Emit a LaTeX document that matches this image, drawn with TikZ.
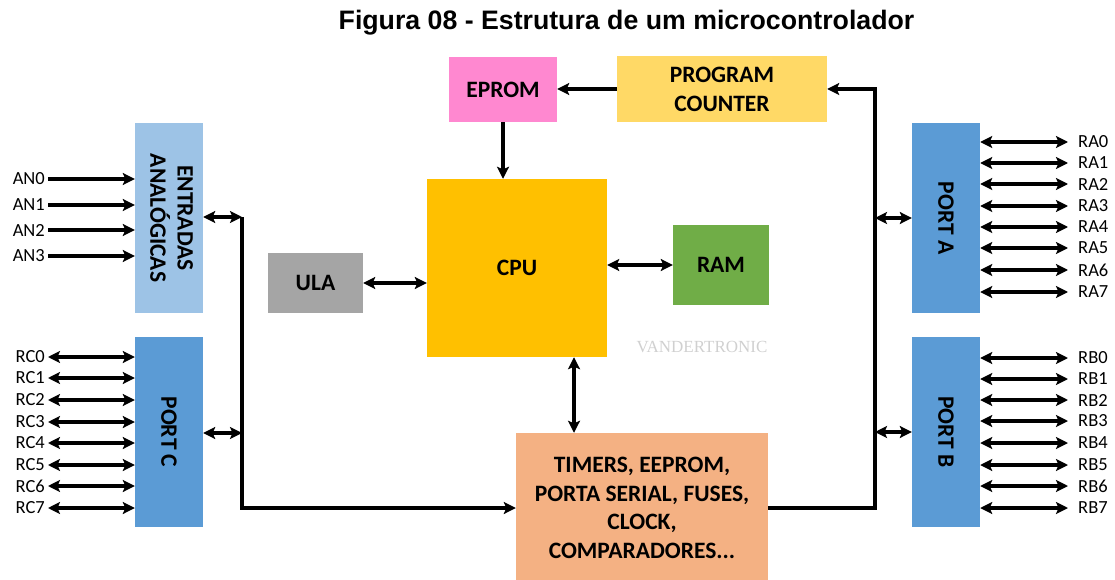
\documentclass[tikz,border=0pt]{standalone}
\usepackage{fontspec}
\setmainfont{Carlito}
\newfontfamily\titlefont{Liberation Sans}
\newfontfamily\wmfont{Liberation Serif}
\usetikzlibrary{arrows.meta}
\definecolor{entblue}{HTML}{9DC3E6}
\definecolor{portblue}{HTML}{5B9BD5}
\definecolor{epromc}{HTML}{FF88D0}
\definecolor{pcc}{HTML}{FFD966}
\definecolor{cpuc}{HTML}{FFC000}
\definecolor{ulac}{HTML}{A5A5A5}
\definecolor{ramc}{HTML}{70AD47}
\definecolor{timc}{HTML}{F4B183}
\definecolor{wmc}{HTML}{D0D0D0}
\tikzset{
  blk/.style={draw=none, inner sep=0pt, align=center, font=\fontsize{23.5}{25}\selectfont\bfseries},
  pinlab/.style={inner sep=0pt, font=\fontsize{18.5}{20}\selectfont},
  tip/.style={Stealth[length=12pt,width=12pt,inset=2.5pt]},
  conn/.style={line width=3.2pt, -{Stealth[length=12pt,width=12pt,inset=2.5pt]}},
  biconn/.style={line width=3.2pt, {Stealth[length=12pt,width=12pt,inset=2.5pt]}-{Stealth[length=12pt,width=12pt,inset=2.5pt]}}
}
\begin{document}
\begin{tikzpicture}[x=1pt,y=-1pt]
\useasboundingbox (0,0) rectangle (1115,580);
% title
\node[inner sep=0pt, font=\titlefont\fontsize{26.7}{28}\selectfont\bfseries] (title) at (626.5,23) {Figura 08 - Estrutura de um microcontrolador};
% blocks
\node[blk, fill=entblue, minimum width=68pt, minimum height=190pt] (ent) at (169,218) {\rotatebox{-90}{\begin{tabular}{@{}c@{}}ENTRADAS\\ANALÓGICAS\end{tabular}}};
\node[blk, fill=portblue, minimum width=68pt, minimum height=190pt] (portc) at (169,432) {\rotatebox{-90}{PORT C}};
\node[blk, fill=portblue, minimum width=68pt, minimum height=190pt] (porta) at (946,218) {\rotatebox{-90}{PORT A}};
\node[blk, fill=portblue, minimum width=68pt, minimum height=190pt] (portb) at (946,432) {\rotatebox{-90}{PORT B}};
\node[blk, fill=epromc, minimum width=108pt, minimum height=65pt] (eprom) at (503,89.5) {EPROM};
\node[blk, fill=pcc, minimum width=210pt, minimum height=66pt, font=\fontsize{23.5}{29}\selectfont\bfseries] (pc) at (722,89) {PROGRAM\\COUNTER};
\node[blk, fill=cpuc, minimum width=180pt, minimum height=178pt] (cpu) at (517,268) {CPU};
\node[blk, fill=ulac, minimum width=95pt, minimum height=60pt] (ula) at (315.5,283) {ULA};
\node[blk, fill=ramc, minimum width=96pt, minimum height=80pt] (ram) at (721,265) {RAM};
\node[blk, fill=timc, minimum width=252pt, minimum height=150pt, font=\fontsize{23.5}{28.5}\selectfont\bfseries] (tim) at (642,508) {TIMERS, EEPROM,\\PORTA SERIAL, FUSES,\\CLOCK,\\COMPARADORES...};
\node[inner sep=0pt, text=wmc, font=\wmfont\fontsize{17}{18}\selectfont] (wm) at (702,347) {VANDERTRONIC};
% internal connectors
\draw[conn] (pc.west) -- (pc.west -| eprom.east);
\draw[conn] (eprom.south) -- (eprom.south |- cpu.north);
\draw[biconn] (ula.east) -- (ula.east -| cpu.west);
\draw[biconn] (ram.west -| cpu.east) -- (ram.west);
\draw[biconn] ([xshift=57pt]cpu.south) -- ([xshift=57pt]cpu.south |- tim.north);
% left bus
\coordinate (lbtop) at (242,217);
\coordinate (lbmid) at (242,433);
\coordinate (lbbot) at (242,508);
\draw[conn] (lbtop) -- (lbbot) -- (lbbot -| tim.west);
\draw[biconn] (lbtop) -- (lbtop -| ent.east);
\draw[biconn] (lbmid) -- (lbmid -| portc.east);
% right bus
\coordinate (rbot) at (875,508);
\coordinate (rma) at (875,218);
\coordinate (rmb) at (875,432);
\draw[conn] (rbot -| tim.east) -- (rbot) -- (rbot |- pc.east) -- (pc.east);
\draw[biconn] (rma) -- (rma -| porta.west);
\draw[biconn] (rmb) -- (rmb -| portb.west);
% AN pins
\foreach \n/\y in {0/179,1/205,2/230,3/256}{
  \node[pinlab, anchor=east] (an\n) at (45,\y) {AN\n};
  \draw[conn] ([xshift=3pt]an\n.east) -- (an\n.east -| ent.west);
}
% RC pins
\foreach \n/\y in {0/357,1/378,2/400,3/422,4/443,5/465,6/486,7/508}{
  \node[pinlab, anchor=east] (rc\n) at (45,\y) {RC\n};
  \draw[biconn] ([xshift=3pt]rc\n.east) -- (rc\n.east -| portc.west);
}
% RA pins
\foreach \n/\y in {0/142,1/163,2/184,3/206,4/227,5/248,6/270,7/292}{
  \node[pinlab, anchor=west] (ra\n) at (1078,\y) {RA\n};
  \draw[biconn] (ra\n.west -| porta.east) -- ([xshift=-10pt]ra\n.west);
}
% RB pins
\foreach \n/\y in {0/358,1/379,2/400,3/421,4/443,5/465,6/486,7/508}{
  \node[pinlab, anchor=west] (rb\n) at (1078,\y) {RB\n};
  \draw[biconn] (rb\n.west -| portb.east) -- ([xshift=-10pt]rb\n.west);
}
\end{tikzpicture}
\end{document}
